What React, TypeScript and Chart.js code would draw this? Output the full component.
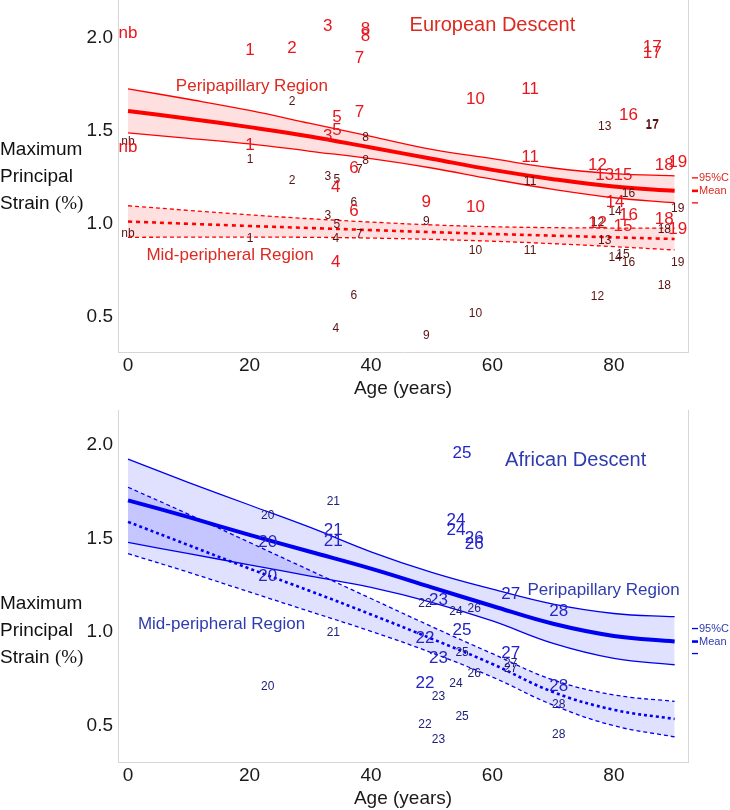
import React, { useEffect, useRef } from 'react';
import { Chart, registerables } from 'chart.js';

Chart.register(...registerables);

const FONT = '"Liberation Sans", Arial, Helvetica, sans-serif';
const SERIF = '"Liberation Serif", "Times New Roman", serif';

const X_TICKS = [0, 20, 40, 60, 80];
const Y_TICKS = [0.5, 1.0, 1.5, 2.0];

// Fitted curves, sampled every 10 years of age
const CURVE_AGES = [0, 10, 20, 30, 40, 50, 60, 70, 80, 90];

// European descent
const EU_PERI_UPPER = [1.726, 1.67, 1.61, 1.54, 1.47, 1.40, 1.35, 1.30, 1.27, 1.258];
const EU_PERI_MEAN = [1.607, 1.565, 1.52, 1.47, 1.41, 1.35, 1.29, 1.24, 1.20, 1.177];
const EU_PERI_LOWER = [1.489, 1.46, 1.43, 1.39, 1.35, 1.30, 1.24, 1.185, 1.14, 1.113];
const EU_MID_UPPER = [1.097, 1.072, 1.048, 1.027, 1.009, 0.994, 0.984, 0.979, 0.977, 0.977];
const EU_MID_MEAN = [1.012, 1.0, 0.988, 0.977, 0.966, 0.955, 0.945, 0.936, 0.927, 0.918];
const EU_MID_LOWER = [0.927, 0.928, 0.928, 0.927, 0.923, 0.916, 0.906, 0.893, 0.877, 0.859];

// African descent
const AF_PERI_UPPER = [1.925, 1.80, 1.68, 1.56, 1.43, 1.32, 1.23, 1.15, 1.10, 1.083];
const AF_PERI_MEAN = [1.705, 1.615, 1.52, 1.43, 1.34, 1.24, 1.14, 1.045, 0.98, 0.95];
const AF_PERI_LOWER = [1.48, 1.42, 1.36, 1.30, 1.24, 1.16, 1.06, 0.94, 0.86, 0.826];
const AF_MID_UPPER = [1.775, 1.63, 1.48, 1.33, 1.18, 1.03, 0.885, 0.745, 0.665, 0.63];
const AF_MID_MEAN = [1.59, 1.465, 1.34, 1.22, 1.095, 0.965, 0.83, 0.68, 0.585, 0.536];
const AF_MID_LOWER = [1.42, 1.32, 1.215, 1.11, 1.005, 0.89, 0.76, 0.61, 0.50, 0.44];

// Individual subjects (labels are subject ids)
const EU_IDS = ['nb', '1', '2', '3', '4', '5', '6', '7', '8', '9', '10', '11', '12', '13', '14', '15', '16', '17', '18', '19'];
const EU_AGES = [0, 20.1, 27, 32.9, 34.2, 34.4, 37.2, 38.1, 39.1, 49.1, 57.2, 66.2, 77.3, 78.5, 80.2, 81.5, 82.4, 86.3, 88.3, 90.5];
const EU_LARGE_A = [2.027, 1.935, 1.946, 2.06, 1.194, 1.575, 1.30, 1.892, 2.048, 1.113, 1.672, 1.726, 1.317, 1.263, 1.113, 1.263, 1.586, 1.952, 1.317, 1.333];
const EU_LARGE_B = [1.414, 1.42, null, 1.473, 0.79, 1.505, 1.065, 1.602, 2.01, null, 1.086, 1.355, 1.005, null, null, 0.984, 1.043, 1.919, 1.022, 0.968];
const EU_SMALL_A = [1.44, 1.344, 1.656, 1.253, 0.919, 1.237, 1.113, 1.29, 1.462, 1.011, 0.855, 1.226, 1.005, 1.522, 1.065, 0.833, 1.161, 1.532, 0.968, 1.081];
const EU_SMALL_B = [0.946, 0.919, 1.231, 1.043, 0.435, 0.995, 0.613, 0.941, 1.339, 0.398, 0.516, 0.855, 0.608, 0.909, 0.817, null, 0.79, 1.528, 0.667, 0.79];

const AF_IDS = ['20', '21', '22', '23', '24', '25', '26', '27', '28'];
const AF_AGES = [23, 33.8, 48.9, 51.1, 54, 55, 57, 63, 70.9];
const AF_LARGE_A = [1.48, 1.543, 0.968, 1.172, 1.597, 1.957, 1.50, 1.204, 1.113];
const AF_LARGE_B = [1.30, 1.484, 0.726, 0.86, 1.543, 1.01, 1.468, 0.887, 0.71];
const AF_SMALL_A = [1.624, 1.70, 1.15, 0.656, 1.108, 0.89, 1.124, 0.833, 0.61];
const AF_SMALL_B = [0.71, 0.995, 0.505, 0.425, 0.726, 0.55, 0.78, 0.806, 0.45];

type Txt = { text: string; x: number; y: number; size: number };

type Spec = {
  ids: string[];
  ages: number[];
  large: (number | null)[][];
  small: (number | null)[][];
  largeColor: string;
  smallColor: string;
  curves: number[][]; // periUpper, periMean, periLower, midUpper, midMean, midLower
  line: string;
  band: string;
  textColor: string;
  texts: Txt[];
  yMin: number;
  yMax: number;
  topPad: number;
  yTitleMid: number;
  meanDash: number[];
};

const EU_SPEC: Spec = {
  ids: EU_IDS,
  ages: EU_AGES,
  large: [EU_LARGE_A, EU_LARGE_B],
  small: [EU_SMALL_A, EU_SMALL_B],
  largeColor: '#e8161c',
  smallColor: '#5a1212',
  curves: [EU_PERI_UPPER, EU_PERI_MEAN, EU_PERI_LOWER, EU_MID_UPPER, EU_MID_MEAN, EU_MID_LOWER],
  line: '#ff0000',
  band: 'rgba(255,0,0,0.12)',
  textColor: '#dc2a20',
  texts: [
    { text: 'European Descent', x: 60, y: 2.065, size: 20 },
    { text: 'Peripapillary Region', x: 20.4, y: 1.737, size: 17 },
    { text: 'Mid-peripheral Region', x: 16.8, y: 0.828, size: 17 },
  ],
  yMin: 0.31,
  yMax: 2.204,
  topPad: 0,
  yTitleMid: 177,
  meanDash: [4, 4],
};

const AF_SPEC: Spec = {
  ids: AF_IDS,
  ages: AF_AGES,
  large: [AF_LARGE_A, AF_LARGE_B],
  small: [AF_SMALL_A, AF_SMALL_B],
  largeColor: '#2323c8',
  smallColor: '#20207e',
  curves: [AF_PERI_UPPER, AF_PERI_MEAN, AF_PERI_LOWER, AF_MID_UPPER, AF_MID_MEAN, AF_MID_LOWER],
  line: '#0000f0',
  band: 'rgba(0,0,255,0.12)',
  textColor: '#2e3cb0',
  texts: [
    { text: 'African Descent', x: 73.7, y: 1.919, size: 20 },
    { text: 'Peripapillary Region', x: 78.3, y: 1.226, size: 17 },
    { text: 'Mid-peripheral Region', x: 15.4, y: 1.043, size: 17 },
  ],
  yMin: 0.306,
  yMax: 2.188,
  topPad: 10,
  yTitleMid: 231,
  meanDash: [3, 3],
};

function series(vals: number[]) {
  return CURVE_AGES.map((a, i) => ({ x: a, y: vals[i] }));
}

function makePlugin(spec: Spec) {
  return {
    id: 'annot',
    afterDatasetsDraw(chart: any) {
      const { ctx, chartArea, scales } = chart;
      const x = scales.x;
      const y = scales.y;
      ctx.save();
      // right frame line
      ctx.strokeStyle = '#d6d6d6';
      ctx.lineWidth = 1;
      ctx.beginPath();
      ctx.moveTo(Math.round(chartArea.right) + 0.5, chartArea.top);
      ctx.lineTo(Math.round(chartArea.right) + 0.5, chartArea.bottom);
      ctx.stroke();

      ctx.textAlign = 'center';
      ctx.textBaseline = 'middle';
      // small labels
      ctx.font = `12px ${FONT}`;
      ctx.fillStyle = spec.smallColor;
      spec.small.forEach((vals) => {
        vals.forEach((v, i) => {
          if (v == null) return;
          ctx.fillText(spec.ids[i], x.getPixelForValue(spec.ages[i]), y.getPixelForValue(v));
        });
      });
      // large labels
      ctx.font = `17px ${FONT}`;
      ctx.fillStyle = spec.largeColor;
      spec.large.forEach((vals) => {
        vals.forEach((v, i) => {
          if (v == null) return;
          ctx.fillText(spec.ids[i], x.getPixelForValue(spec.ages[i]), y.getPixelForValue(v));
        });
      });
      // region / group texts
      ctx.fillStyle = spec.textColor;
      spec.texts.forEach((t) => {
        ctx.font = `${t.size}px ${FONT}`;
        ctx.fillText(t.text, x.getPixelForValue(t.x), y.getPixelForValue(t.y));
      });

      // right-hand key at the end of the mean curve
      const meanEnd = spec.curves[1][spec.curves[1].length - 1];
      const ym = y.getPixelForValue(meanEnd);
      const lx = chartArea.right + 4;
      ctx.strokeStyle = spec.line;
      ctx.fillStyle = spec.textColor;
      ctx.textAlign = 'left';
      ctx.font = `11px ${FONT}`;
      const rows = [
        { dy: -13, w: 1.3, t: '95%CI' },
        { dy: 0, w: 2.6, t: 'Mean' },
        { dy: 12, w: 1.3, t: '' },
      ];
      rows.forEach((r) => {
        ctx.lineWidth = r.w;
        ctx.beginPath();
        ctx.moveTo(lx, ym + r.dy);
        ctx.lineTo(lx + 6, ym + r.dy);
        ctx.stroke();
        if (r.t) ctx.fillText(r.t, lx + 7, ym + r.dy);
      });

      // y-axis title (horizontal, three lines)
      ctx.fillStyle = '#111';
      ctx.textAlign = 'left';
      ctx.font = `19px ${FONT}`;
      const m = spec.yTitleMid;
      ctx.fillText('Maximum', 0, m - 27);
      ctx.fillText('Principal', 0, m);
      ctx.fillText('Strain ', 0, m + 27);
      const w = ctx.measureText('Strain ').width;
      ctx.font = `19px ${SERIF}`;
      ctx.fillText('(%)', w, m + 27);
      ctx.restore();
    },
  };
}

function buildConfig(spec: Spec): any {
  const c = spec.curves;
  const solid = (data: number[], w: number, fillTo: any) => ({
    data: series(data),
    borderColor: spec.line,
    borderWidth: w,
    pointRadius: 0,
    tension: 0.4,
    fill: fillTo,
    backgroundColor: spec.band,
  });
  const dashed = (data: number[], w: number, dash: number[], fillTo: any) => ({
    data: series(data),
    borderColor: spec.line,
    borderWidth: w,
    borderDash: dash,
    pointRadius: 0,
    tension: 0.4,
    fill: fillTo,
    backgroundColor: spec.band,
  });
  const tickFont = { family: FONT, size: 19 };
  return {
    type: 'line',
    data: {
      datasets: [
        solid(c[0], 1.3, '+2'),
        solid(c[1], 4, false),
        solid(c[2], 1.3, false),
        dashed(c[3], 1.3, [4, 3], '+2'),
        dashed(c[4], 2.6, spec.meanDash, false),
        dashed(c[5], 1.3, [4, 3], false),
      ],
    },
    options: {
      animation: false,
      responsive: false,
      maintainAspectRatio: false,
      layout: { padding: { left: 0, right: 42, top: spec.topPad, bottom: 0 } },
      plugins: { legend: { display: false }, tooltip: { enabled: false } },
      scales: {
        x: {
          type: 'linear',
          min: -1.65,
          max: 92.2,
          grid: { display: false, drawTicks: false },
          border: { display: true, color: '#d6d6d6', width: 1 },
          ticks: { font: tickFont, color: '#1a1a1a', padding: 2, maxRotation: 0 },
          afterBuildTicks: (s: any) => {
            s.ticks = X_TICKS.map((v) => ({ value: v }));
          },
          title: {
            display: true,
            text: 'Age (years)',
            font: { family: FONT, size: 19 },
            color: '#1a1a1a',
            padding: { top: 0, bottom: 0 },
          },
          afterFit: (s: any) => {
            s.height = 48;
            s.paddingLeft = 0;
            s.paddingRight = 0;
            s.paddingTop = 0;
            s.paddingBottom = 0;
          },
        },
        y: {
          type: 'linear',
          min: spec.yMin,
          max: spec.yMax,
          grid: { display: false, drawTicks: false },
          border: { display: true, color: '#d6d6d6', width: 1 },
          ticks: {
            font: tickFont,
            color: '#1a1a1a',
            padding: 5,
            callback: (v: number) => v.toFixed(1),
          },
          afterBuildTicks: (s: any) => {
            s.ticks = Y_TICKS.map((v) => ({ value: v }));
          },
          afterFit: (s: any) => {
            s.width = 118;
            s.paddingLeft = 0;
            s.paddingRight = 0;
            s.paddingTop = 0;
            s.paddingBottom = 0;
          },
        },
      },
    },
    plugins: [makePlugin(spec)],
  };
}

export default function App() {
  const topRef = useRef<HTMLCanvasElement>(null);
  const botRef = useRef<HTMLCanvasElement>(null);
  useEffect(() => {
    const c1 = new Chart(topRef.current as HTMLCanvasElement, buildConfig(EU_SPEC));
    const c2 = new Chart(botRef.current as HTMLCanvasElement, buildConfig(AF_SPEC));
    return () => {
      c1.destroy();
      c2.destroy();
    };
  }, []);
  return (
    <div style={{ position: 'absolute', left: 0, top: 0, width: 730, height: 810, background: '#fff' }}>
      <canvas
        ref={topRef}
        width={730}
        height={400}
        style={{ position: 'absolute', left: 0, top: 0, width: 730, height: 400 }}
      />
      <canvas
        ref={botRef}
        width={730}
        height={410}
        style={{ position: 'absolute', left: 0, top: 400, width: 730, height: 410 }}
      />
    </div>
  );
}
